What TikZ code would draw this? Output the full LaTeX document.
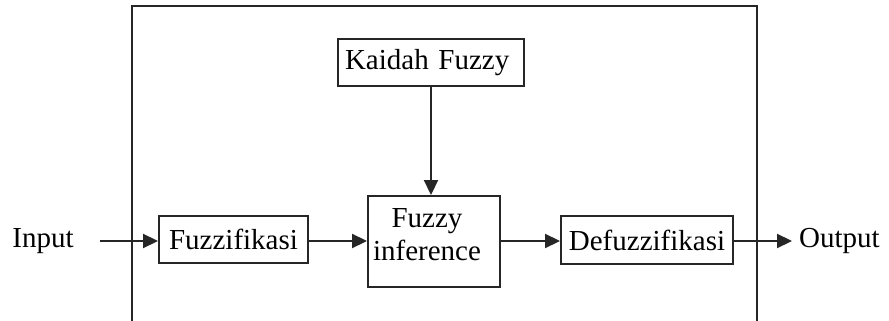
\documentclass[tikz,border=0pt]{standalone}
\usepackage{fontspec}
\setmainfont{Liberation Serif}
\usetikzlibrary{arrows.meta}
\begin{document}
\begin{tikzpicture}[x=1pt,y=-1pt,
  blk/.style={draw=black!85,line width=2pt,inner sep=0pt,font=\fontsize{29}{33}\selectfont,align=center},
  lbl/.style={inner sep=0pt,font=\fontsize{29}{33}\selectfont},
  conn/.style={line width=2.2pt,draw=black!85,-{Triangle[length=15pt,width=14pt]}},
  frame/.style={line width=2.6pt,draw=black!85}]
\useasboundingbox (0,0) rectangle (889,321);
\draw[frame] (132,321) -- (132,6) -- (757,6) -- (757,321);
\node[blk,minimum width=186pt,minimum height=47pt,text width=172pt,inner xsep=7pt,align=left] (kf) at (431,62.5) {Kaidah Fuzzy};
\node[blk,minimum width=132pt,minimum height=91pt] (fi) at (434,241.5) {};
\node[lbl,align=center] (fitext) at (427,234.5) {Fuzzy\\inference};
\node[blk,minimum width=149pt,minimum height=47pt] (fz) at (233.5,239.5) {Fuzzifikasi};
\node[blk,minimum width=172pt,minimum height=48pt] (df) at (647,240) {Defuzzifikasi};
\node[lbl] (in) at (43,241) {Input};
\node[lbl,anchor=west,inner xsep=7pt] (out) at (792,241) {Output};
\coordinate (instart) at (100,241);
\draw[conn] (instart) -- (instart -| fz.west);
\draw[conn] (fz.east |- 0,241) -- (fi.west |- 0,241);
\draw[conn] (fi.east |- 0,241) -- (df.west |- 0,241);
\draw[conn] (df.east |- 0,241) -- (out.west);
\draw[conn] (kf.south) -- (kf.south |- fi.north);
\end{tikzpicture}
\end{document}
